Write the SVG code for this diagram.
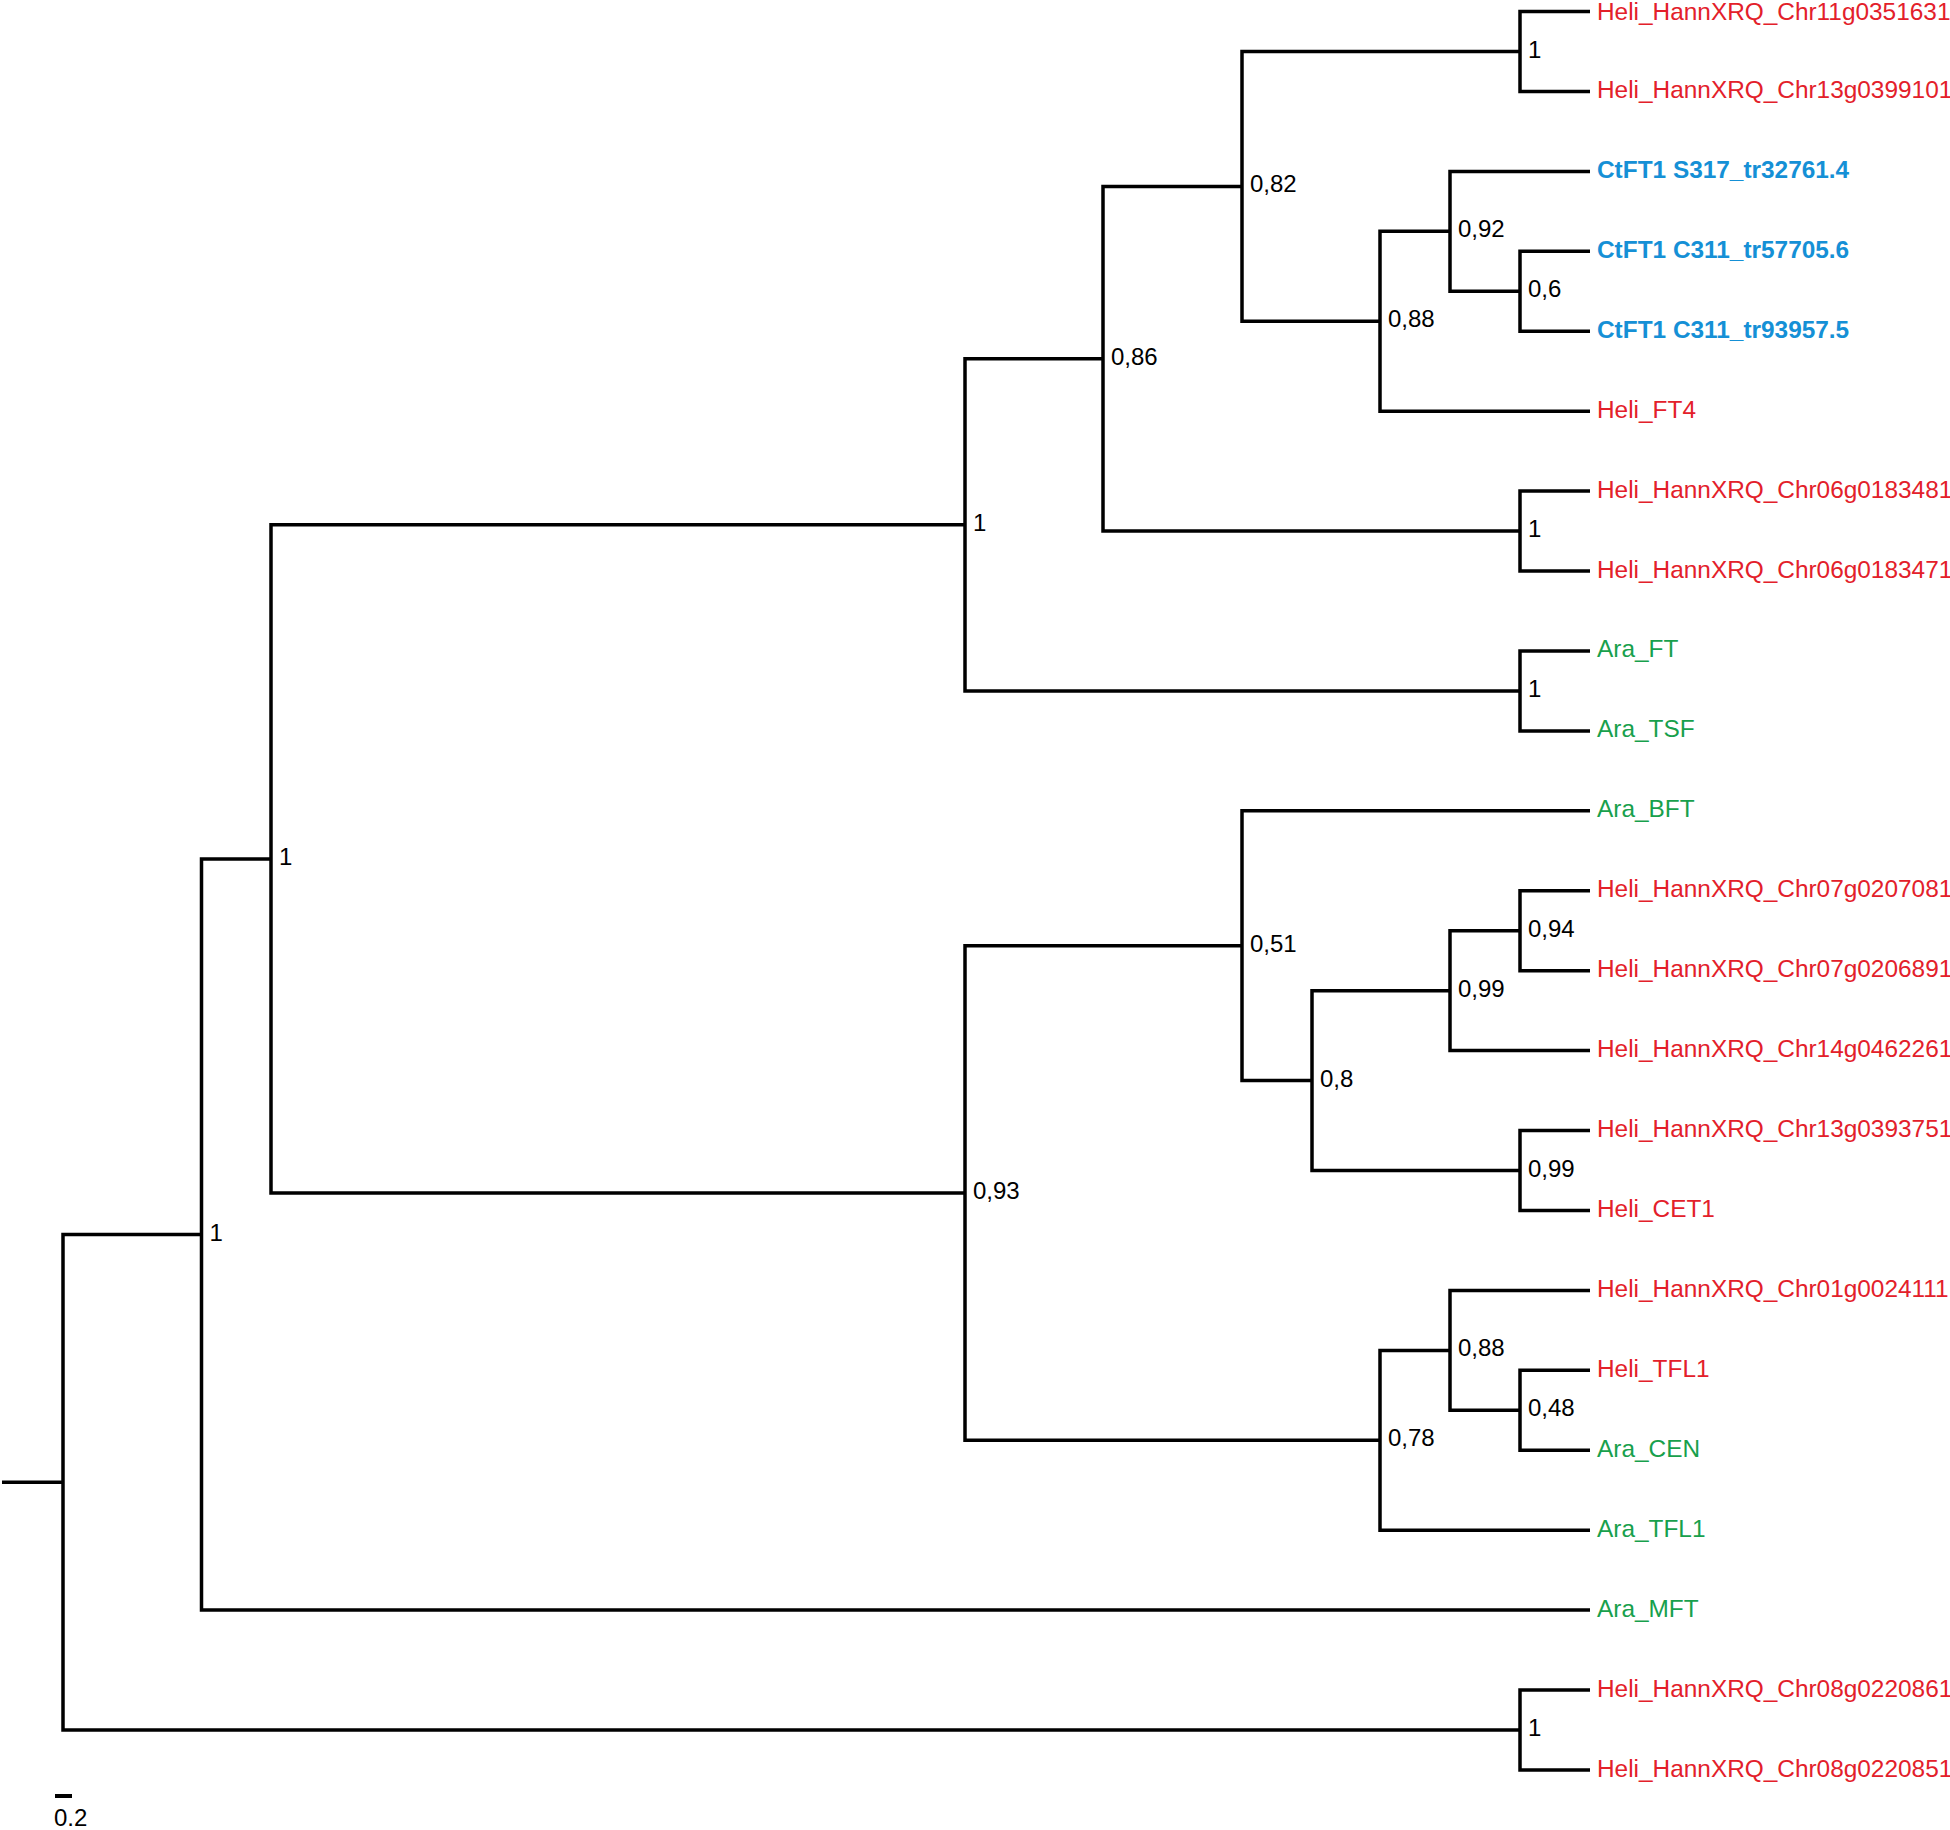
<svg xmlns="http://www.w3.org/2000/svg" width="1950" height="1830" viewBox="0 0 1950 1830">
<style>
.br{fill:none;stroke:#000;stroke-width:3.5;stroke-linejoin:miter;stroke-linecap:butt}
.lf{font-family:"Liberation Sans",Arial,sans-serif;font-size:24.4px}
.red{fill:#e3202a}
.grn{fill:#18a04c}
.blu{fill:#1590d6;font-weight:bold}
.sp{font-family:"Liberation Sans",Arial,sans-serif;font-size:24px;fill:#000}
</style>
<rect width="1950" height="1830" fill="#fff"/>
<g id="connectors">
<path class="br" d="M2,1482.3 H63"/>
<path class="br" d="M201.5,1234.5 H63 V1730 H1520"/>
<path class="br" d="M271,858.9 H201.5 V1610.1 H1590"/>
<path class="br" d="M965,524.8 H271 V1193 H965"/>
<path class="br" d="M1103,358.7 H965 V690.9 H1520"/>
<path class="br" d="M1242,186.4 H1103 V531.1 H1520"/>
<path class="br" d="M1520,51.5 H1242 V321.2 H1380"/>
<path class="br" d="M1590,11.5 H1520 V91.4 H1590"/>
<path class="br" d="M1450,231.3 H1380 V411.2 H1590"/>
<path class="br" d="M1590,171.4 H1450 V291.3 H1520"/>
<path class="br" d="M1590,251.3 H1520 V331.2 H1590"/>
<path class="br" d="M1590,491.1 H1520 V571 H1590"/>
<path class="br" d="M1590,650.9 H1520 V730.9 H1590"/>
<path class="br" d="M1242,945.7 H965 V1440.3 H1380"/>
<path class="br" d="M1590,810.8 H1242 V1080.6 H1312"/>
<path class="br" d="M1450,990.7 H1312 V1170.5 H1520"/>
<path class="br" d="M1520,930.7 H1450 V1050.6 H1590"/>
<path class="br" d="M1590,890.7 H1520 V970.7 H1590"/>
<path class="br" d="M1590,1130.5 H1520 V1210.5 H1590"/>
<path class="br" d="M1450,1350.4 H1380 V1530.2 H1590"/>
<path class="br" d="M1590,1290.4 H1450 V1410.3 H1520"/>
<path class="br" d="M1590,1370.3 H1520 V1450.2 H1590"/>
<path class="br" d="M1590,1690 H1520 V1770 H1590"/>
</g>
<g id="leaves" class="lf">
<g id="leaf0"><text class="red" x="1597" y="19.5">Heli_HannXRQ_Chr11g0351631</text></g>
<g id="leaf1"><text class="red" x="1597" y="97.9">Heli_HannXRQ_Chr13g0399101</text></g>
<g id="leaf2"><text class="blu" x="1597" y="177.9">CtFT1 S317_tr32761.4</text></g>
<g id="leaf3"><text class="blu" x="1597" y="257.8">CtFT1 C311_tr57705.6</text></g>
<g id="leaf4"><text class="blu" x="1597" y="337.7">CtFT1 C311_tr93957.5</text></g>
<g id="leaf5"><text class="red" x="1597" y="417.7">Heli_FT4</text></g>
<g id="leaf6"><text class="red" x="1597" y="497.6">Heli_HannXRQ_Chr06g0183481</text></g>
<g id="leaf7"><text class="red" x="1597" y="577.5">Heli_HannXRQ_Chr06g0183471</text></g>
<g id="leaf8"><text class="grn" x="1597" y="657.4">Ara_FT</text></g>
<g id="leaf9"><text class="grn" x="1597" y="737.4">Ara_TSF</text></g>
<g id="leaf10"><text class="grn" x="1597" y="817.3">Ara_BFT</text></g>
<g id="leaf11"><text class="red" x="1597" y="897.2">Heli_HannXRQ_Chr07g0207081</text></g>
<g id="leaf12"><text class="red" x="1597" y="977.2">Heli_HannXRQ_Chr07g0206891</text></g>
<g id="leaf13"><text class="red" x="1597" y="1057.1">Heli_HannXRQ_Chr14g0462261</text></g>
<g id="leaf14"><text class="red" x="1597" y="1137">Heli_HannXRQ_Chr13g0393751</text></g>
<g id="leaf15"><text class="red" x="1597" y="1217">Heli_CET1</text></g>
<g id="leaf16"><text class="red" x="1597" y="1296.9">Heli_HannXRQ_Chr01g0024111</text></g>
<g id="leaf17"><text class="red" x="1597" y="1376.8">Heli_TFL1</text></g>
<g id="leaf18"><text class="grn" x="1597" y="1456.7">Ara_CEN</text></g>
<g id="leaf19"><text class="grn" x="1597" y="1536.7">Ara_TFL1</text></g>
<g id="leaf20"><text class="grn" x="1597" y="1616.6">Ara_MFT</text></g>
<g id="leaf21"><text class="red" x="1597" y="1696.5">Heli_HannXRQ_Chr08g0220861</text></g>
<g id="leaf22"><text class="red" x="1597" y="1776.5">Heli_HannXRQ_Chr08g0220851</text></g>
</g>
<g id="supports" class="sp">
<g id="nodeF"><text x="1528" y="57.5">1</text></g>
<g id="nodeI"><text x="1528" y="297.3">0,6</text></g>
<g id="nodeH"><text x="1458" y="237.3">0,92</text></g>
<g id="nodeG"><text x="1388" y="327.2">0,88</text></g>
<g id="nodeE"><text x="1250" y="192.4">0,82</text></g>
<g id="nodeJ"><text x="1528" y="537.1">1</text></g>
<g id="nodeD"><text x="1111" y="364.7">0,86</text></g>
<g id="nodeK"><text x="1528" y="696.9">1</text></g>
<g id="nodeC"><text x="973" y="530.8">1</text></g>
<g id="nodeP"><text x="1528" y="936.7">0,94</text></g>
<g id="nodeO"><text x="1458" y="996.7">0,99</text></g>
<g id="nodeQ"><text x="1528" y="1176.5">0,99</text></g>
<g id="nodeN"><text x="1320" y="1086.6">0,8</text></g>
<g id="nodeM"><text x="1250" y="951.7">0,51</text></g>
<g id="nodeT"><text x="1528" y="1416.3">0,48</text></g>
<g id="nodeS"><text x="1458" y="1356.4">0,88</text></g>
<g id="nodeR"><text x="1388" y="1446.3">0,78</text></g>
<g id="nodeL"><text x="973" y="1199">0,93</text></g>
<g id="nodeB"><text x="279" y="864.9">1</text></g>
<g id="nodeA"><text x="209.5" y="1240.5">1</text></g>
<g id="nodeU"><text x="1528" y="1736">1</text></g>
</g>
<g id="scalebar">
<line x1="55" y1="1796" x2="72" y2="1796" stroke="#000" stroke-width="4"/>
<text class="sp" x="54" y="1826">0.2</text>
</g>
</svg>
